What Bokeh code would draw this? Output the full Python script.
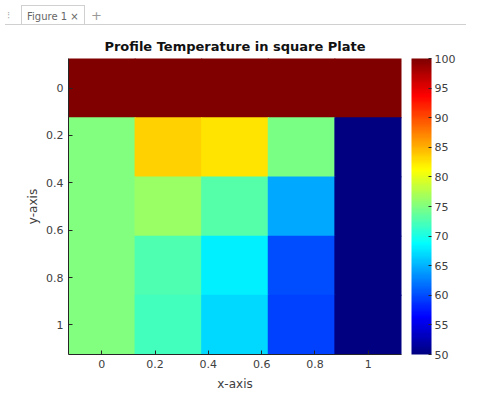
import numpy as np
from bokeh.plotting import figure
from bokeh.models import (LinearColorMapper, ColorBar, FixedTicker, Range1d, Div,
                          ColumnDataSource)
from bokeh.layouts import column
from bokeh.transform import transform
from bokeh.embed import file_html
from bokeh.resources import INLINE

# ---- data ----
x_nodes = [0.0, 0.25, 0.5, 0.75, 1.0]
y_nodes = [0.0, 0.25, 0.5, 0.75, 1.0]
row_y000 = [100, 100, 100, 100, 100]
row_y025 = [75, 83.5, 82.6, 74.7, 50]
row_y050 = [75, 76.3, 73, 64.5, 50]
row_y075 = [75, 72.5, 68, 60.1, 50]
row_y100 = [75, 71.9, 66.8, 59.4, 50]
rows = [row_y000, row_y025, row_y050, row_y075, row_y100]

axis_ticks = [0, 0.2, 0.4, 0.6, 0.8, 1]
axis_tick_labels = ["0", "0.2", "0.4", "0.6", "0.8", "1"]
cbar_ticks = [50, 55, 60, 65, 70, 75, 80, 85, 90, 95, 100]
t_low, t_high = 50, 100

# ---- jet palette ----
def jet_hex(t):
    r = min(max(1.5 - abs(4 * t - 3), 0), 1)
    g = min(max(1.5 - abs(4 * t - 2), 0), 1)
    b = min(max(1.5 - abs(4 * t - 1), 0), 1)
    return "#%02x%02x%02x" % (round(r * 255), round(g * 255), round(b * 255))

jet = [jet_hex(i / 255) for i in range(256)]

xs, ys, vs = [], [], []
for yi, row in zip(y_nodes, rows):
    for xi, v in zip(x_nodes, row):
        xs.append(xi); ys.append(yi); vs.append(v)
src = ColumnDataSource(dict(x=xs, y=ys, v=vs))

mapper = LinearColorMapper(palette=jet, low=t_low, high=t_high)

FONT = "DejaVu Sans"
TXT = "#404040"

p = figure(output_backend="svg", toolbar_location=None,
           frame_width=333, frame_height=296,
           x_range=Range1d(-0.125, 1.125), y_range=Range1d(1.125, -0.125),
           min_border_left=68, min_border_right=10, min_border_top=10,
           min_border_bottom=41,
           title="Profile Temperature in square Plate")
p.rect(x="x", y="y", width=0.254, height=0.254, source=src,
       fill_color=transform("v", mapper), line_color=None)

p.title.align = "center"
p.title.text_font = FONT
p.title.text_font_size = "13px"
p.title.text_font_style = "bold"
p.title.text_color = "#111111"

for ax, lab in ((p.xaxis[0], "x-axis"), (p.yaxis[0], "y-axis")):
    ax.ticker = FixedTicker(ticks=axis_ticks)
    ax.major_label_overrides = {t: s for t, s in zip(axis_ticks, axis_tick_labels)}
    ax.major_tick_in = 4
    ax.major_tick_out = 0
    ax.minor_tick_line_color = None
    ax.axis_line_color = "#262626"
    ax.major_tick_line_color = "#262626"
    ax.major_label_text_font = FONT
    ax.major_label_text_font_size = "11px"
    ax.major_label_text_color = TXT
    ax.axis_label = lab
    ax.axis_label_text_font = FONT
    ax.axis_label_text_font_size = "12px"
    ax.axis_label_text_font_style = "normal"
    ax.axis_label_text_color = TXT
p.xaxis.axis_label_standoff = 6
p.yaxis.axis_label_standoff = 3
p.xgrid.grid_line_color = None
p.ygrid.grid_line_color = None
p.outline_line_color = None

cb = ColorBar(color_mapper=mapper, ticker=FixedTicker(ticks=cbar_ticks),
              width=20, height=296, padding=0, margin=0, location=(10, 0),
              major_tick_in=3, major_tick_out=0, major_tick_line_color="#262626",
              minor_tick_line_color=None, bar_line_color=None,
              major_label_text_font=FONT, major_label_text_font_size="11px",
              major_label_text_color=TXT, label_standoff=3,
              border_line_color=None, background_fill_color=None)
p.add_layout(cb, "right")

tab = Div(text=('<div style="width:461px;height:20px;border-bottom:1px solid #d0d0d0;'
                'font-family:DejaVu Sans;font-size:10px;color:#666;position:relative;">'
                '<span style="position:absolute;left:2px;top:4px;color:#aaa;">&#8285;</span>'
                '<span style="position:absolute;left:16px;top:0px;height:19px;padding:4px 5px 0 5px;'
                'border:1px solid #d0d0d0;border-bottom:none;background:#fff;">Figure 1 &#215;</span>'
                '<span style="position:absolute;left:86px;top:2px;font-size:13px;color:#999;">+</span>'
                '</div>'), width=461, height=21)

layout = column(tab, p)
open("out.html", "w").write(file_html(layout, INLINE))
